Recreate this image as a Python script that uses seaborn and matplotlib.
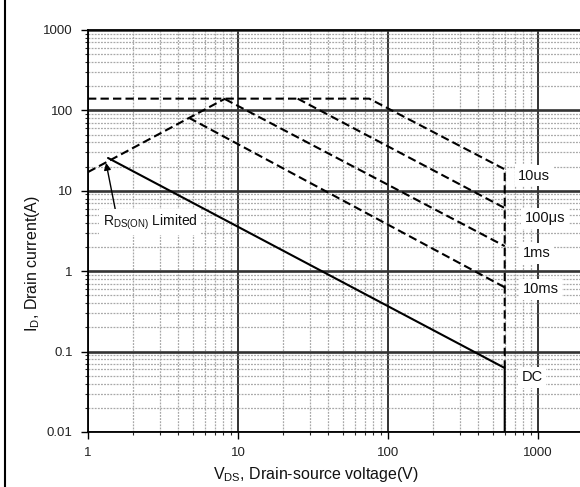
import numpy as np
import pandas as pd
import matplotlib
matplotlib.use("Agg")
import matplotlib.pyplot as plt
from matplotlib.lines import Line2D
from matplotlib.ticker import LogLocator, FuncFormatter, NullFormatter
import seaborn as sns

# Safe operating area curves (V_DS in volts, I_D in amps)
vds_rds = [1.0, 8.2]
id_rds = [17.1, 140.0]

vds_10us = [1.0, 75.0, 600.0, 600.0]
id_10us = [140.0, 140.0, 18.5, 0.0625]

vds_100us = [25.0, 600.0]
id_100us = [140.0, 6.1]

vds_1ms = [8.2, 600.0]
id_1ms = [138.0, 2.05]

vds_10ms = [4.7, 600.0]
id_10ms = [81.0, 0.63]

vds_dc = [1.36, 600.0, 600.0]
id_dc = [25.6, 0.0625, 0.01]

curve_labels = ["10us", "100\u03bcs", "1ms", "10ms", "DC"]
x_ticks = [1, 10, 100, 1000]
y_ticks = [0.01, 0.1, 1, 10, 100, 1000]

sns.set_style("white")
plt.rcParams["font.family"] = ["Liberation Sans", "DejaVu Sans"]
plt.rcParams["mathtext.fontset"] = "custom"
plt.rcParams["mathtext.rm"] = "Liberation Sans"
plt.rcParams["mathtext.it"] = "Liberation Sans"

fig = plt.figure(figsize=(5.8, 4.87), dpi=100)
ax = fig.add_axes([88 / 580, 55 / 487, 492 / 580, 402 / 487])

ax.set_xscale("log")
ax.set_yscale("log")
ax.set_xlim(1, 10 ** (492 / 150))
ax.set_ylim(0.01, 1000)

# grid
ax.xaxis.set_major_locator(LogLocator(base=10, numticks=10))
ax.yaxis.set_major_locator(LogLocator(base=10, numticks=10))
ax.xaxis.set_minor_locator(LogLocator(base=10, subs=np.arange(2, 10), numticks=20))
ax.yaxis.set_minor_locator(LogLocator(base=10, subs=np.arange(2, 10), numticks=20))
ax.grid(which="minor", color="#a8a8a8", lw=0.9, ls=(0, (1.5, 1)), zorder=0)
ax.grid(which="major", axis="x", color="#222222", lw=1.3, zorder=0.5)
ax.grid(which="major", axis="y", color="#333333", lw=1.9, zorder=0.5)
for gl, loc in zip(ax.get_xgridlines(), ax.get_xticks()):
    if np.isclose(loc, 1000):
        gl.set_color("#808080")
        gl.set_linewidth(2.0)

dash = (0, (4, 2))
lw = 1.5
sns.lineplot(x=vds_rds, y=id_rds, sort=False, estimator=None, ax=ax,
             color="black", lw=lw, linestyle=dash, zorder=3)
sns.lineplot(x=vds_10us, y=id_10us, sort=False, estimator=None, ax=ax,
             color="black", lw=lw, linestyle=dash, zorder=3)
sns.lineplot(x=vds_100us, y=id_100us, sort=False, estimator=None, ax=ax,
             color="black", lw=lw, linestyle=dash, zorder=3)
sns.lineplot(x=vds_1ms, y=id_1ms, sort=False, estimator=None, ax=ax,
             color="black", lw=lw, linestyle=dash, zorder=3)
sns.lineplot(x=vds_10ms, y=id_10ms, sort=False, estimator=None, ax=ax,
             color="black", lw=lw, linestyle=dash, zorder=3)
sns.lineplot(x=vds_dc, y=id_dc, sort=False, estimator=None, ax=ax,
             color="black", lw=lw, linestyle="-", zorder=3)

# curve labels to the right of the breakdown limit
box = dict(facecolor="white", edgecolor="none", pad=2.5)
label_pos = [(736, id_10us[2] * 0.83), (819, id_100us[-1] * 0.75),
             (794, id_1ms[-1] * 0.82), (794, id_10ms[-1] * 0.95),
             (780, id_dc[1] * 0.77)]
for text, (lx, ly) in zip(curve_labels, label_pos):
    ax.text(lx, ly, text, ha="left", va="center", fontsize=10.5,
            color="#111111", bbox=box, zorder=4)

ax.annotate(r"R$_{\mathregular{DS(ON)}}$ Limited", xy=(1.32, 22.2),
            xytext=(2.59, 4.1), ha="center", va="center", fontsize=10,
            color="#111111", bbox=box, zorder=4,
            arrowprops=dict(arrowstyle="-|>", color="black", lw=1.0,
                            mutation_scale=10, relpos=(0.14, 1.0),
                            shrinkA=0, shrinkB=0))

fmt = FuncFormatter(lambda v, _: f"{v:g}")
ax.set_xticks(x_ticks)
ax.set_yticks(y_ticks)
ax.xaxis.set_major_formatter(fmt)
ax.yaxis.set_major_formatter(fmt)
ax.xaxis.set_minor_formatter(NullFormatter())
ax.yaxis.set_minor_formatter(NullFormatter())
ax.set_xlim(1, 10 ** (492 / 150))
ax.set_ylim(0.01, 1000)
ax.tick_params(axis="both", which="major", direction="out", length=5, width=1,
               labelsize=9.5, colors="black", labelcolor="#222222", pad=6,
               bottom=True, left=True)
ax.tick_params(axis="both", which="minor", direction="out", length=2.5,
               width=0.8, bottom=True, left=True)

for side in ["left", "bottom", "top"]:
    ax.spines[side].set_visible(True)
    ax.spines[side].set_color("black")
    ax.spines[side].set_linewidth(1.3)
ax.spines["right"].set_visible(False)

ax.set_xlabel(r"V$_{\mathregular{DS}}$, Drain-source voltage(V)", fontsize=11.5,
              color="#111111")
ax.set_ylabel(r"I$_{\mathregular{D}}$, Drain current(A)", fontsize=11.5,
              color="#111111")
ax.xaxis.set_label_coords((316 - 88) / 492, -(465 - 432) / 402)
ax.yaxis.set_label_coords(-(88 - 42) / 492, (432 - 264) / 402)

fig.add_artist(Line2D([5 / 580, 5 / 580], [0, 1], transform=fig.transFigure,
                      color="black", lw=1.5))

fig.savefig("out.png", dpi=100)
